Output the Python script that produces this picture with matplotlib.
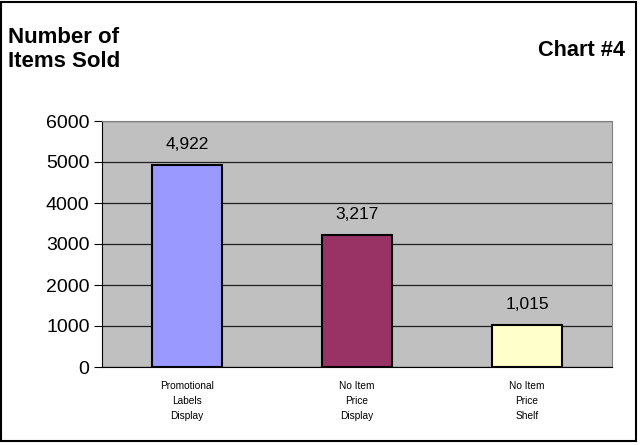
import numpy as np
import matplotlib.pyplot as plt
from matplotlib.patches import Rectangle
from matplotlib.transforms import offset_copy

# data
categories = ['Promotional\nLabels\nDisplay', 'No Item\nPrice\nDisplay', 'No Item\nPrice\nShelf']
values = [4922, 3217, 1015]
value_labels = ['4,922', '3,217', '1,015']
bar_colors = ['#9999FF', '#993366', '#FFFFCC']
y_ticks = [0, 1000, 2000, 3000, 4000, 5000, 6000]

plt.rcParams['font.family'] = ['Liberation Sans', 'DejaVu Sans']

fig = plt.figure(figsize=(6.41, 4.45), dpi=100)
# axes: x 102..612 px, y 121..367 px
ax = fig.add_axes([102/641, 1 - 367/445, 510/641, 246/445])

x = np.arange(len(values))
ax.bar(x, values, width=0.41, color=bar_colors, edgecolor='black', linewidth=1.5, zorder=3)
lab_trans = offset_copy(ax.transData, fig=fig, x=0, y=15, units='points')
for xi, v, lab in zip(x, values, value_labels):
    ax.text(xi, v, lab, ha='center', va='center', fontsize=12.5, transform=lab_trans)

ax.set_facecolor('#C0C0C0')
ax.set_xlim(-0.5, 2.5)
ax.set_ylim(0, 6000)
ax.set_yticks(y_ticks)
ax.set_yticklabels([str(t) for t in y_ticks], fontsize=14)
ax.yaxis.grid(True, color='#202020', linewidth=0.9, zorder=0)
ax.set_axisbelow(True)
ax.set_xticks(x)
ax.set_xticklabels(categories, fontsize=7.3, linespacing=1.65)
ax.tick_params(axis='x', length=0, pad=10)
ax.tick_params(axis='y', length=6, direction='out', width=0.8, pad=3)
for s in ['left', 'bottom']:
    ax.spines[s].set_color('black')
for s in ['top', 'right']:
    ax.spines[s].set_color('#808080')

fig.text(8/641, 1 - 27/445, 'Number of\nItems Sold', fontsize=16, fontweight='bold',
         va='top', ha='left', linespacing=1.2)
fig.text(625/641, 1 - 50/445, 'Chart #4', fontsize=15.7, fontweight='bold',
         va='center', ha='right')

fig.patches.append(Rectangle((0.002, 0.01), 0.99, 0.985, transform=fig.transFigure,
                             fill=False, edgecolor='black', linewidth=1.5))

fig.savefig('out.png', dpi=100, facecolor='white')
